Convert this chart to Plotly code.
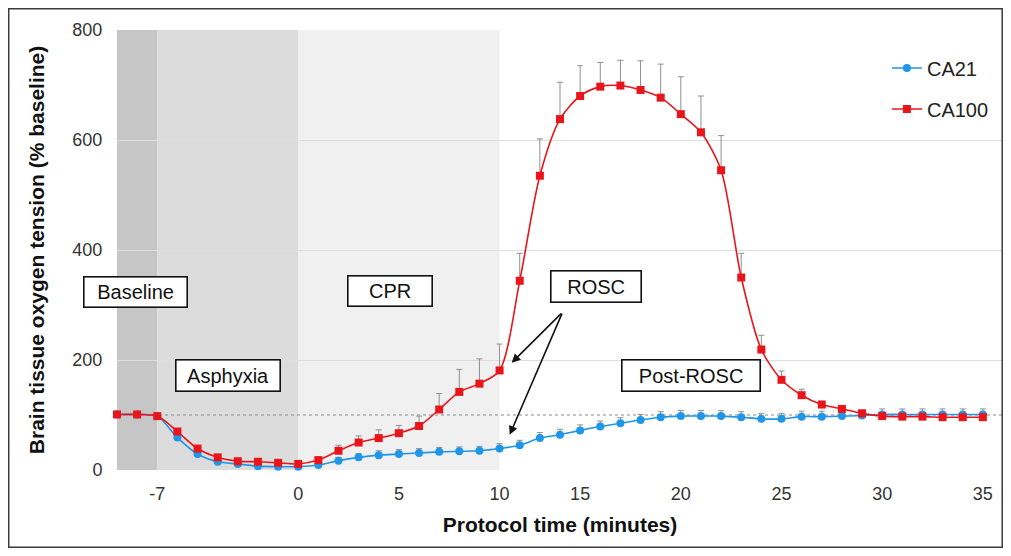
import plotly.graph_objects as go

# x positions of the measurements (one per plotted step)
time_points = list(range(-9, 35))

ca21_values = [101, 101, 98, 59, 29, 15, 11, 7, 6, 6,
               9, 17, 23, 27, 29, 31, 33, 34, 35, 39,
               45, 58, 64, 72, 79, 85, 91, 96, 98, 98,
               98, 96, 93, 93, 97, 97, 98, 99, 101, 101,
               101, 101, 101, 101]
ca21_err = [3, 3, 3, 5, 5, 4, 4, 4, 4, 4,
            5, 6, 7, 8, 8, 8, 8, 8, 8, 9,
            9, 10, 10, 10, 10, 10, 10, 10, 10, 10,
            10, 10, 10, 10, 10, 10, 10, 10, 10, 10,
            10, 10, 10, 10]

ca100_values = [101, 101, 98, 70, 39, 23, 16, 15, 13, 11,
                18, 35, 50, 58, 67, 80, 110, 142, 157, 181,
                344, 535, 638, 680, 697, 699, 691, 677, 647, 614,
                545, 350, 219, 164, 136, 119, 111, 103, 98, 97,
                97, 96, 96, 96]
ca100_err = [3, 3, 3, 4, 4, 4, 3, 3, 3, 3,
             5, 10, 12, 15, 14, 18, 29, 41, 45, 48,
             50, 67, 67, 55, 44, 46, 53, 61, 68, 66,
             63, 44, 26, 16, 11, 6, 5, 4, 4, 4,
             4, 4, 4, 4]

tick_positions = [-7, 0, 5, 10, 14, 19, 24, 29, 34]
tick_labels = ["-7", "0", "5", "10", "15", "20", "25", "30", "35"]

y_ticks = [0, 200, 400, 600, 800]

phase_bounds = [(-9, -7, "#c6c6c6"), (-7, 0, "#dcdcdc"), (0, 10, "#f0f0f0")]

BLUE = "#1f96e8"
RED = "#e8161b"
FONT = "Liberation Sans, Arial, sans-serif"

fig = go.Figure()

fig.add_trace(go.Scatter(
    x=time_points, y=ca21_values, name="CA21", legendgroup="a",
    mode="lines+markers",
    line=dict(color=BLUE, width=1.6, shape="spline", smoothing=0.8),
    marker=dict(symbol="circle", size=8, color=BLUE),
    error_y=dict(type="data", symmetric=False, array=ca21_err,
                 arrayminus=[0] * len(ca21_err), color="#8f8f8f",
                 thickness=1, width=3),
    cliponaxis=False,
))
fig.add_trace(go.Scatter(
    x=time_points, y=ca100_values, name="CA100", legendgroup="b",
    mode="lines+markers",
    line=dict(color=RED, width=1.6, shape="spline", smoothing=0.8),
    marker=dict(symbol="square", size=8, color=RED),
    error_y=dict(type="data", symmetric=False, array=ca100_err,
                 arrayminus=[0] * len(ca100_err), color="#8f8f8f",
                 thickness=1, width=3),
    cliponaxis=False,
))

shapes = []
for x0, x1, col in phase_bounds:
    shapes.append(dict(type="rect", xref="x", yref="y", x0=x0, x1=x1,
                       y0=0, y1=800, fillcolor=col, line=dict(width=0),
                       layer="below"))
# baseline reference line
shapes.append(dict(type="line", xref="x", yref="y", x0=-9, x1=35,
                   y0=100, y1=100, line=dict(color="#8a8a8a", width=1.2, dash="dot"),
                   layer="between"))
# frame around the figure
shapes.append(dict(type="rect", xref="paper", yref="paper",
                   x0=-0.1222, x1=0.9991, y0=-0.1756, y1=1.0483,
                   line=dict(color="#3a3a3a", width=1.5), fillcolor="rgba(0,0,0,0)"))

boxes = [
    ("Baseline", -8.08, 324, 98, 25),
    ("Asphyxia", -3.47, 171, 99, 26),
    ("CPR", 4.56, 325, 79, 25),
    ("ROSC", 14.77, 333, 85, 26),
    ("Post-ROSC", 19.52, 171, 133, 26),
]
annotations = []
for txt, bx, by, w, h in boxes:
    annotations.append(dict(
        x=bx, y=by, xref="x", yref="y", text=txt, showarrow=False,
        font=dict(family=FONT, size=20, color="#111111"),
        bgcolor="white", bordercolor="#111111", borderwidth=1.6,
        borderpad=2, width=w, height=h, align="center", valign="middle",
    ))
for tip_x, tip_y in [(10.6, 195), (10.5, 64)]:
    annotations.append(dict(
        x=tip_x, y=tip_y, xref="x", yref="y", ax=13.13, ay=287,
        axref="x", ayref="y", text="", showarrow=True,
        arrowhead=2, arrowsize=1.1, arrowwidth=1.6, arrowcolor="#111111",
        standoff=0, startstandoff=0,
    ))

fig.update_layout(
    width=995, height=540,
    margin=dict(l=109, r=0, t=22, b=78),
    paper_bgcolor="white", plot_bgcolor="white",
    font=dict(family=FONT, color="#333333"),
    shapes=shapes, annotations=annotations,
    showlegend=True,
    legend=dict(x=0.869, y=0.958, xanchor="left", yanchor="top",
                bgcolor="rgba(0,0,0,0)", traceorder="grouped",
                tracegroupgap=12,
                font=dict(family=FONT, size=20, color="#222222")),
    xaxis=dict(range=[-9, 35], tickmode="array", tickvals=tick_positions,
               ticktext=tick_labels, showgrid=False, zeroline=False,
               showline=False, ticks="outside", ticklen=7,
               tickcolor="rgba(0,0,0,0)", automargin=False,
               tickfont=dict(family=FONT, size=18, color="#333333"),
               title=dict(text="<b>Protocol time (minutes)</b>", standoff=14,
                          font=dict(family=FONT, size=21, color="#111111"))),
    yaxis=dict(range=[0, 800], tickmode="array", tickvals=y_ticks,
               showgrid=True, gridcolor="#dedede", gridwidth=1,
               zeroline=False, showline=False, ticks="outside", ticklen=10,
               tickcolor="rgba(0,0,0,0)", automargin=False,
               tickfont=dict(family=FONT, size=18, color="#333333"),
               title=dict(text="<b>Brain tissue oxygen tension (% baseline)</b>",
                          standoff=22,
                          font=dict(family=FONT, size=21, color="#111111"))),
)

fig.write_html("out.html")
